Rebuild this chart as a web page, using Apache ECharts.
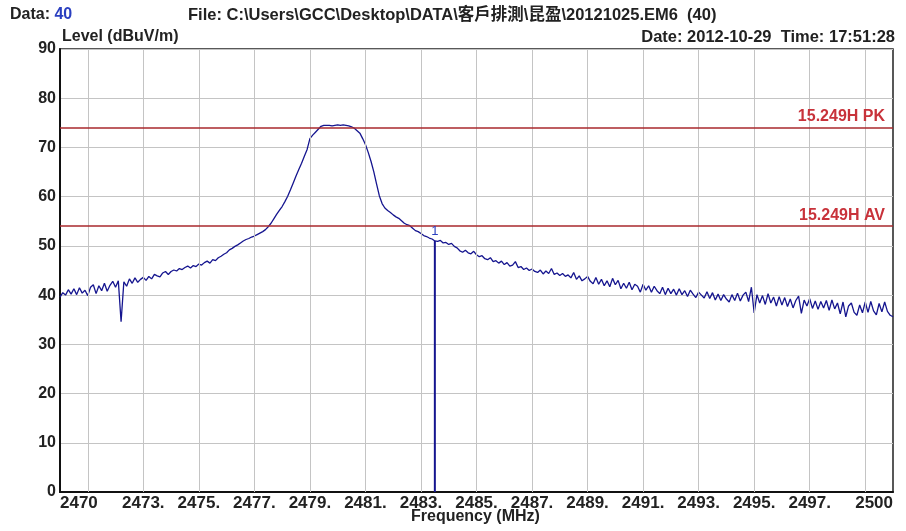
<!DOCTYPE html>
<html>
<head>
<meta charset="utf-8">
<script src="https://cdn.jsdelivr.net/npm/echarts@6/dist/echarts.min.js"></script>
<style>
html,body{margin:0;padding:0;background:#fff;}
#c{width:906px;height:531px;}
</style>
</head>
<body>
<div id="c"></div>
<script>
// Sweep definition (MHz)
const freqStart = 2470.0;
const freqStep = 0.1;
// Measured level (dBuV/m), one row per MHz (x.0 .. x.9), last value = 2500.0
const level = [
  39.6, 40.5, 40.0, 41.1, 40.2, 41.3, 40.1, 41.5, 40.4, 41.0,
  39.9, 41.6, 42.1, 40.3, 41.9, 40.9, 42.4, 40.8, 42.0, 42.8,
  41.6, 42.9, 34.6, 42.7, 41.8, 43.3, 42.4, 43.5, 42.6, 43.2,
  43.6, 43.0, 43.8, 43.3, 44.2, 43.9, 43.7, 44.5, 44.8, 44.2,
  44.8, 45.1, 44.9, 45.4, 45.2, 45.6, 45.9, 45.5, 46.0, 45.8,
  46.3, 46.1, 46.6, 46.9, 46.5, 47.2, 47.0, 47.6, 47.9, 48.3,
  48.6, 49.2, 49.5, 49.9, 50.2, 50.6, 51.0, 51.3, 51.5, 51.8,
  52.0, 52.3, 52.6, 52.9, 53.3, 53.9, 54.6, 55.5, 56.4, 57.2,
  58.0, 59.0, 60.1, 61.4, 62.8, 64.2, 65.5, 66.8, 68.2, 69.6,
  71.8, 72.5, 73.1, 73.7, 74.3, 74.5, 74.5, 74.5, 74.4, 74.5,
  74.6, 74.5, 74.6, 74.5, 74.4, 74.2, 73.9, 73.4, 72.9, 71.8,
  70.6, 69.0, 67.2, 65.1, 62.6, 60.2, 58.6, 57.7, 57.2, 56.8,
  56.3, 55.9, 55.6, 55.1, 54.6, 54.3, 54.1, 53.6, 53.1, 52.9,
  52.5, 52.1, 51.9, 51.6, 51.4, 51.0, 50.9, 51.1, 50.6, 50.7,
  50.3, 50.5, 49.9, 49.6, 49.0, 48.7, 49.1, 48.6, 48.4, 48.9,
  48.2, 47.8, 48.0, 47.4, 47.2, 47.6, 46.8, 47.0, 46.5, 46.9,
  46.2, 46.6, 45.9, 46.1, 46.8, 45.6, 45.8, 45.2, 45.5, 45.0,
  45.3, 44.8, 44.6, 45.1, 44.3, 44.9, 44.4, 45.4, 44.2, 44.5,
  44.0, 44.4, 43.8, 44.1, 43.5, 44.6, 43.2, 43.9, 42.9, 43.3,
  43.8, 42.8, 42.3, 43.6, 42.2, 43.2, 41.9, 42.9, 41.7, 43.4,
  42.1, 43.0, 41.3, 42.4, 41.4, 42.6, 41.1, 42.2, 41.8, 40.6,
  42.2, 41.0, 41.9, 40.6, 41.8, 40.9, 40.3, 41.6, 40.1, 41.4,
  40.3, 41.2, 40.0, 41.3, 40.1, 40.9, 39.7, 41.0, 40.2, 39.5,
  40.6, 40.0, 39.4, 40.7, 39.3, 40.5, 39.0, 40.2, 38.9, 40.1,
  39.2, 38.6, 40.1, 38.9, 40.4, 38.8, 40.0, 40.6, 38.7, 41.6,
  36.4, 40.1, 38.4, 39.9, 38.1, 40.3, 38.4, 39.6, 37.8, 39.7,
  38.0, 39.5, 37.7, 39.2, 37.4, 38.9, 39.8, 36.3, 39.0, 37.8,
  39.3, 37.3, 38.8, 37.1, 38.7, 37.4, 38.9, 36.9, 39.0, 37.2,
  38.4, 36.2, 38.6, 35.6, 37.8, 38.4, 36.5, 35.9, 38.0, 36.4,
  38.6, 36.5, 38.7, 36.8, 36.0, 38.3, 36.6, 38.6, 36.7, 35.9,
  35.6
];
// Limit lines
const limitValues = [74, 54];
const limitLabels = ['15.249H PK', '15.249H AV'];
// Marker 1
const markerFreq = 2483.5;
const markerLevel = 51.0;
const markerLabel = '1';
// Axis
const xMin = 2470, xMax = 2500;
const xGridValues = [2471, 2473, 2475, 2477, 2479, 2481, 2483, 2485, 2487, 2489, 2491, 2493, 2495, 2497, 2499];
const xLabelValues = [2470, 2473, 2475, 2477, 2479, 2481, 2483, 2485, 2487, 2489, 2491, 2493, 2495, 2497, 2500];
const yMin = 0, yMax = 90, yStep = 10;
// Texts
const dataNo = '40';
const fileText = 'File: C:\\Users\\GCC\\Desktop\\DATA\\客戶排測\\昆盈\\20121025.EM6  (40)';
const dateText = 'Date: 2012-10-29  Time: 17:51:28';
const yName = 'Level (dBuV/m)';
const xName = 'Frequency (MHz)';

const FONT = '"Liberation Sans", Arial, "Noto Sans CJK TC", sans-serif';
const traceData = level.map((v, i) => [+(freqStart + i * freqStep).toFixed(1), v]);

const chart = echarts.init(document.getElementById('c'), null, {renderer: 'canvas'});
chart.setOption({
  animation: false,
  backgroundColor: '#ffffff',
  grid: {left: 60, right: 13, top: 49, bottom: 39, show: true, borderColor: '#222', borderWidth: 1.5, backgroundColor: 'transparent'},
  xAxis: {
    type: 'value', min: xMin, max: xMax,
    axisLine: {show: true, lineStyle: {color: '#111', width: 2}},
    axisTick: {show: false},
    splitLine: {show: false},
    axisLabel: {
      customValues: xLabelValues,
      showMinLabel: true, showMaxLabel: true,
      alignMinLabel: 'left', alignMaxLabel: 'right',
      margin: 3,
      fontFamily: FONT, fontWeight: 'bold', fontSize: 17, color: '#222',
      formatter: v => (v === xMin || v === xMax) ? String(v) : (v + '.')
    }
  },
  yAxis: {
    type: 'value', min: yMin, max: yMax, interval: yStep,
    axisLine: {show: true, lineStyle: {color: '#111', width: 2}},
    axisTick: {show: false},
    splitLine: {show: true, lineStyle: {color: '#c4c4c4', width: 1}},
    axisLabel: {margin: 4, fontFamily: FONT, fontWeight: 'bold', fontSize: 16, color: '#222'}
  },
  graphic: [
    {type: 'text', left: 10, top: 7, style: {text: '{a|Data: }{b|' + dataNo + '}', rich: {
      a: {fontFamily: FONT, fontWeight: 'bold', fontSize: 16, fill: '#222'},
      b: {fontFamily: FONT, fontWeight: 'bold', fontSize: 16, fill: '#2a3fc0'}}}},
    {type: 'text', left: 188, top: 7, style: {text: fileText, fontFamily: FONT, fontWeight: 'bold', fontSize: 16.5, fill: '#222'}},
    {type: 'text', right: 11, top: 29, style: {text: dateText, fontFamily: FONT, fontWeight: 'bold', fontSize: 16.5, fill: '#222'}},
    {type: 'text', left: 62, top: 29, style: {text: yName, fontFamily: FONT, fontWeight: 'bold', fontSize: 16, fill: '#222'}},
    {type: 'text', left: 411, top: 509, style: {text: xName, fontFamily: FONT, fontWeight: 'bold', fontSize: 16, fill: '#222'}}
  ],
  series: [
    {
      type: 'line', data: [], silent: true, z: 1,
      markLine: {
        silent: true, symbol: 'none', animation: false,
        lineStyle: {color: '#c4c4c4', width: 1, type: 'solid'},
        label: {show: false},
        data: xGridValues.map(v => ({xAxis: v}))
      }
    },
    {
      type: 'line', data: [], silent: true, z: 3,
      markLine: {
        silent: true, symbol: 'none', animation: false,
        lineStyle: {color: '#a8282c', width: 1.5, type: 'solid'},
        data: limitValues.map((v, i) => ({yAxis: v, label: {
          show: true, position: 'insideEndTop', formatter: limitLabels[i], distance: [8, 3],
          fontFamily: FONT, fontWeight: 'bold', fontSize: 16, color: '#c8323a'}}))
      }
    },
    {
      type: 'line', data: traceData, showSymbol: false, symbol: 'none', z: 4,
      lineStyle: {color: '#15158f', width: 1.3}, silent: true
    },
    {
      type: 'line', data: [[markerFreq, 0], [markerFreq, markerLevel]], z: 5, silent: true,
      symbol: 'none', showSymbol: false,
      lineStyle: {color: '#15158f', width: 2},
      label: {show: false},
      markPoint: {
        symbol: 'circle', symbolSize: 1, itemStyle: {color: 'transparent'},
        data: [{coord: [markerFreq, markerLevel], label: {show: true, formatter: markerLabel, position: 'top', distance: 3,
          fontFamily: FONT, fontSize: 13, color: '#2a3fc0'}}]
      }
    }
  ]
});
</script>
</body>
</html>
